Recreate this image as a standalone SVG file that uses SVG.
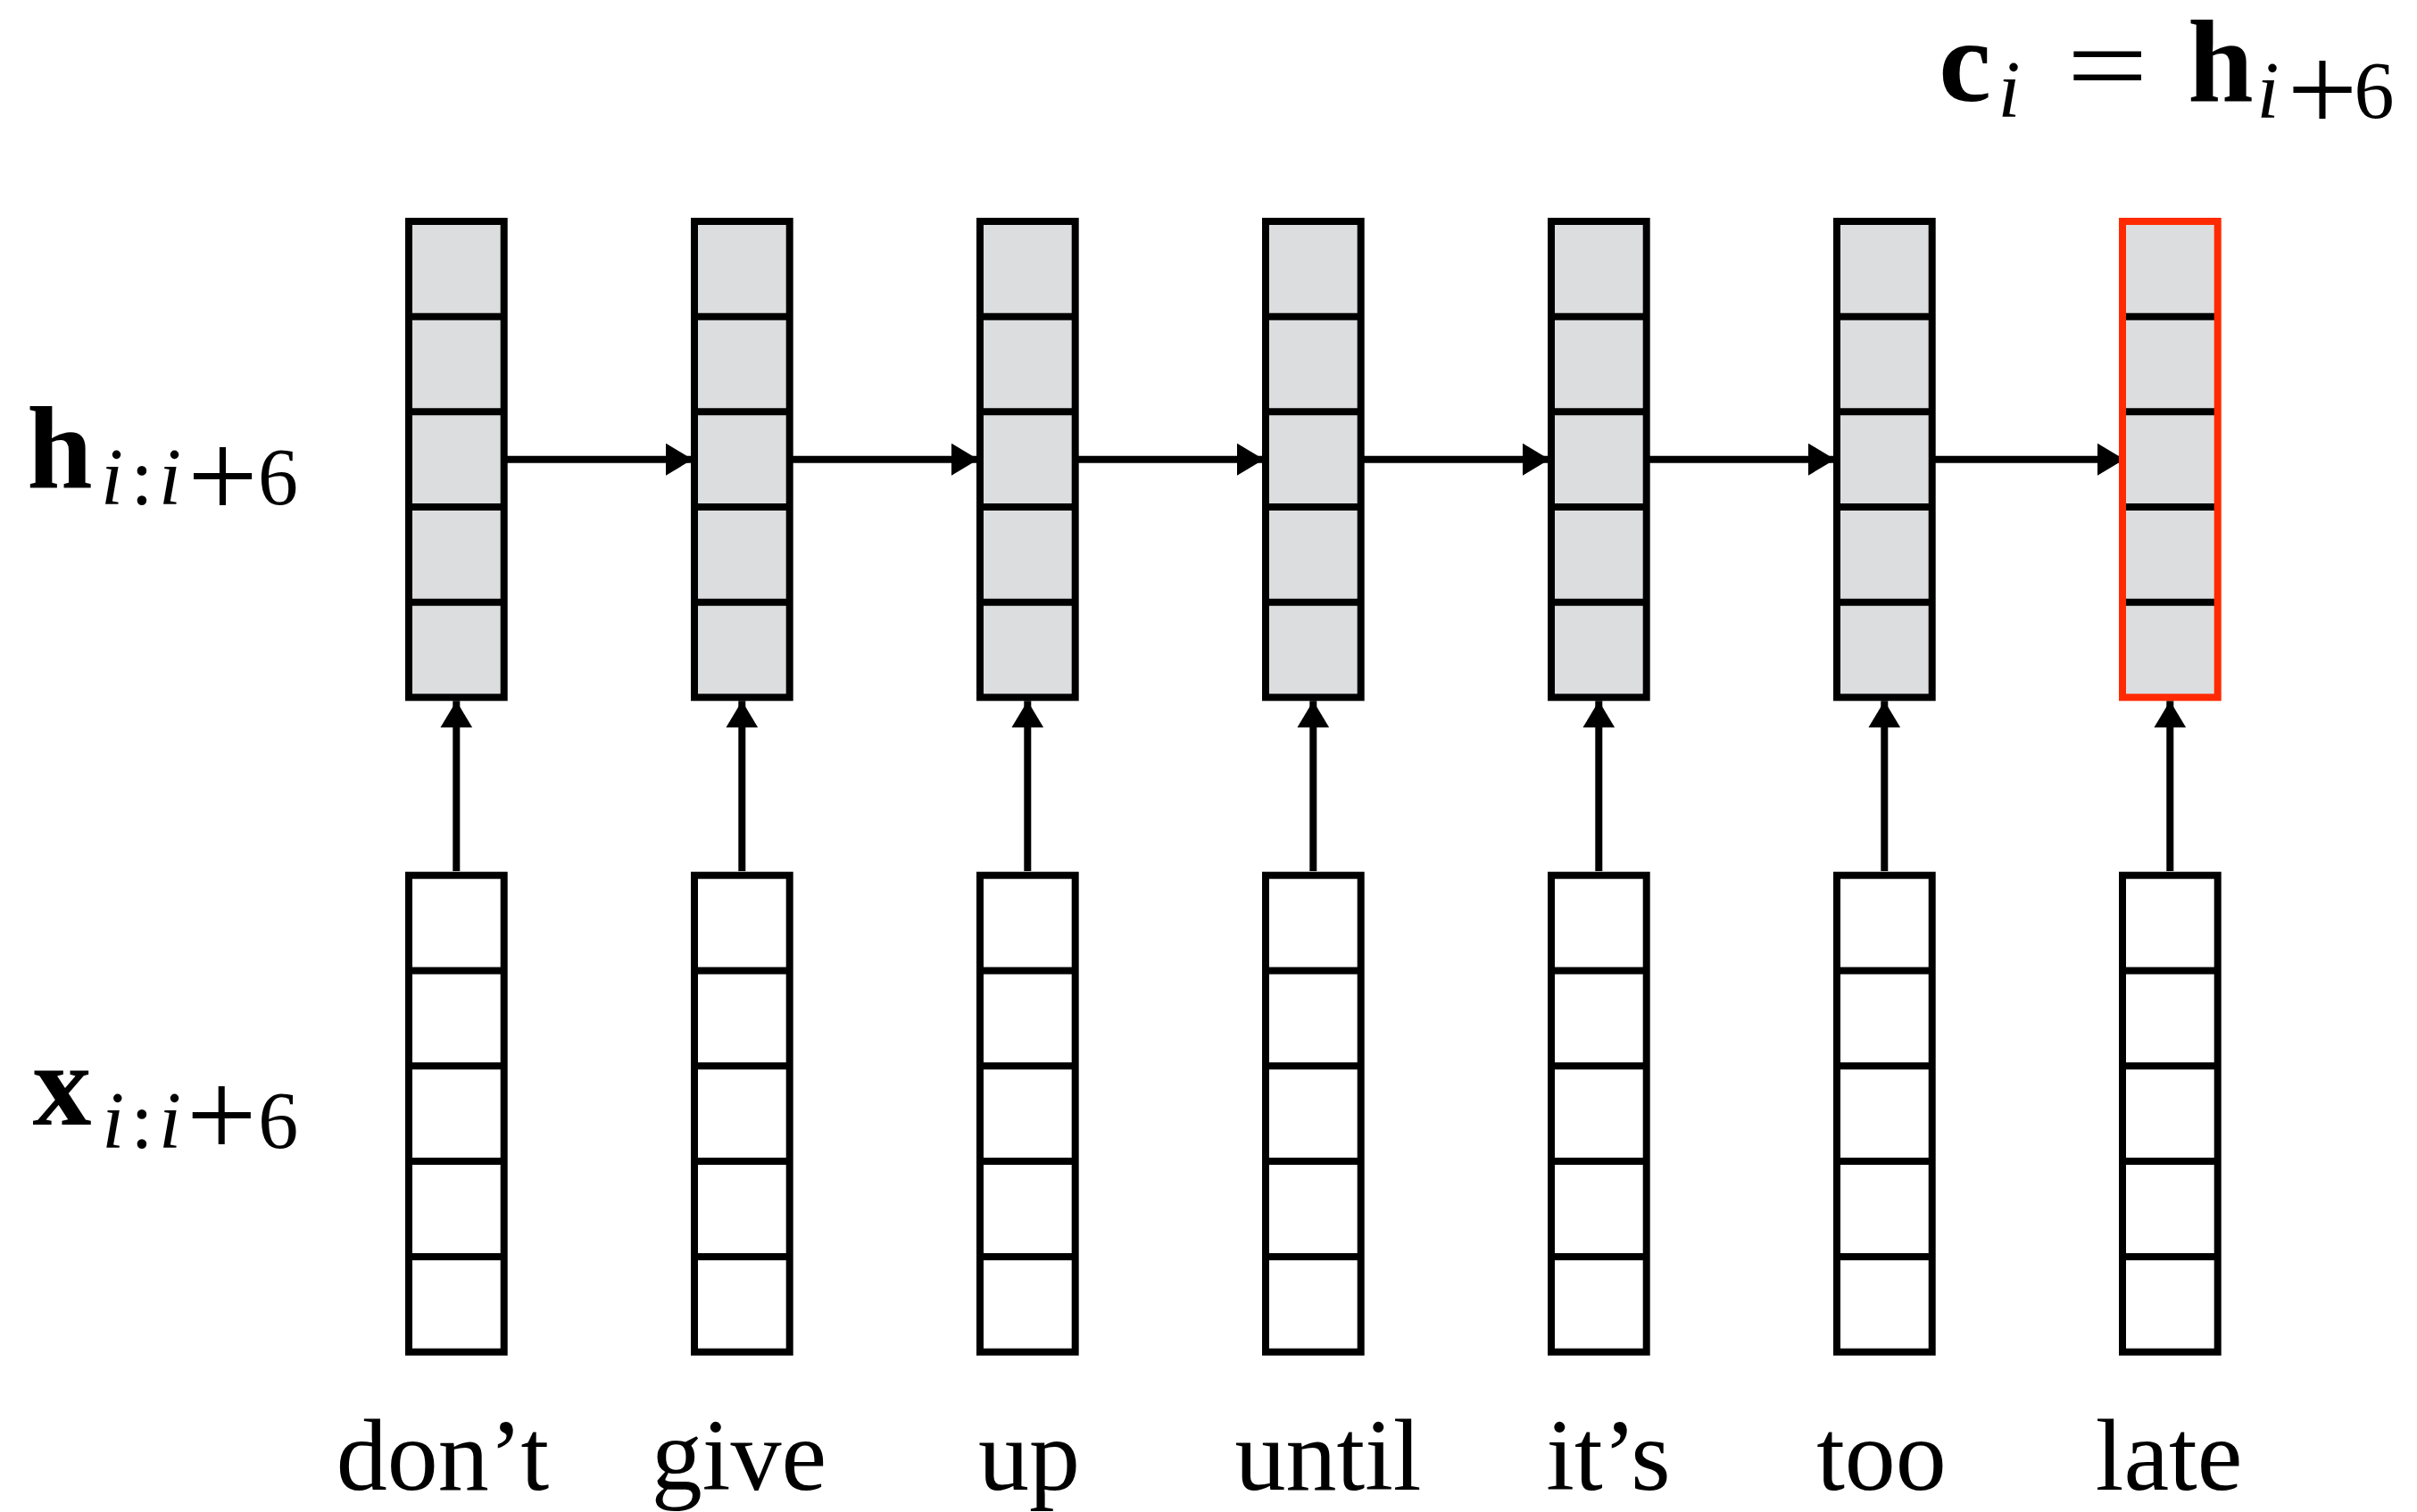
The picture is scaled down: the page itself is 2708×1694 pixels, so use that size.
<svg xmlns="http://www.w3.org/2000/svg" width="2708" height="1694" viewBox="0 0 2708 1694">
<style>
.hbox{fill:#dcdddf;stroke:#000;stroke-width:8}
.xbox{fill:#fff;stroke:#000;stroke-width:8}
.div{stroke:#000;stroke-width:8}
.red{fill:none;stroke:#ff2a00;stroke-width:8}
.conn{stroke:#000;stroke-width:8;fill:none}
.word{font-family:"Liberation Serif",serif;font-size:114px;text-anchor:middle;fill:#000}
.math{font-family:"Liberation Serif",serif;fill:#000;text-anchor:middle}
.bold{font-weight:bold;font-size:132px}
.sub{font-size:90px;font-style:italic}
.up{font-style:normal}
.plus{font-style:normal;font-size:140px}
</style>
<defs>
<marker id="ah" markerUnits="userSpaceOnUse" markerWidth="31" markerHeight="37" refX="30" refY="18" orient="auto">
<path d="M0,0 L30,18 L0,36 Z" fill="#000"/>
</marker>
<g id="hcol">
<rect class="hbox" x="0" y="0" width="106.7" height="533.3"/>
<line class="div" x1="0" y1="106.7" x2="106.7" y2="106.7"/>
<line class="div" x1="0" y1="213.3" x2="106.7" y2="213.3"/>
<line class="div" x1="0" y1="320" x2="106.7" y2="320"/>
<line class="div" x1="0" y1="426.7" x2="106.7" y2="426.7"/>
</g>
<g id="xcol">
<rect class="xbox" x="0" y="0" width="106.7" height="534"/>
<line class="div" x1="0" y1="106.8" x2="106.7" y2="106.8"/>
<line class="div" x1="0" y1="213.6" x2="106.7" y2="213.6"/>
<line class="div" x1="0" y1="320.4" x2="106.7" y2="320.4"/>
<line class="div" x1="0" y1="427.2" x2="106.7" y2="427.2"/>
</g>
</defs>
<rect x="0" y="0" width="2708" height="1694" fill="#fff"/>

<g id="h1"><use href="#hcol" x="458" y="248"/></g>
<g id="h2"><use href="#hcol" x="778" y="248"/></g>
<g id="h3"><use href="#hcol" x="1098" y="248"/></g>
<g id="h4"><use href="#hcol" x="1418" y="248"/></g>
<g id="h5"><use href="#hcol" x="1738" y="248"/></g>
<g id="h6"><use href="#hcol" x="2058" y="248"/></g>

<g id="x1"><use href="#xcol" x="458" y="980.7"/></g>
<g id="x2"><use href="#xcol" x="778" y="980.7"/></g>
<g id="x3"><use href="#xcol" x="1098" y="980.7"/></g>
<g id="x4"><use href="#xcol" x="1418" y="980.7"/></g>
<g id="x5"><use href="#xcol" x="1738" y="980.7"/></g>
<g id="x6"><use href="#xcol" x="2058" y="980.7"/></g>
<g id="x7"><use href="#xcol" x="2378" y="980.7"/></g>

<g id="connectors">
<line class="conn" x1="565" y1="514.7" x2="776" y2="514.7" marker-end="url(#ah)"/>
<line class="conn" x1="882" y1="514.7" x2="1096" y2="514.7" marker-end="url(#ah)"/>
<line class="conn" x1="1205" y1="514.7" x2="1416" y2="514.7" marker-end="url(#ah)"/>
<line class="conn" x1="1525" y1="514.7" x2="1736" y2="514.7" marker-end="url(#ah)"/>
<line class="conn" x1="1845" y1="514.7" x2="2056" y2="514.7" marker-end="url(#ah)"/>
<line class="conn" x1="2165" y1="514.7" x2="2380" y2="514.7" marker-end="url(#ah)"/>
<line class="conn" x1="511.3" y1="976" x2="511.3" y2="785.3" marker-end="url(#ah)"/>
<line class="conn" x1="831.3" y1="976" x2="831.3" y2="785.3" marker-end="url(#ah)"/>
<line class="conn" x1="1151.3" y1="976" x2="1151.3" y2="785.3" marker-end="url(#ah)"/>
<line class="conn" x1="1471.3" y1="976" x2="1471.3" y2="785.3" marker-end="url(#ah)"/>
<line class="conn" x1="1791.3" y1="976" x2="1791.3" y2="785.3" marker-end="url(#ah)"/>
<line class="conn" x1="2111.3" y1="976" x2="2111.3" y2="785.3" marker-end="url(#ah)"/>
<line class="conn" x1="2431.3" y1="976" x2="2431.3" y2="785.3" marker-end="url(#ah)"/>
</g>

<g id="h7">
<rect x="2378" y="248" width="106.7" height="533.3" fill="#dcdddf"/>
<line class="div" x1="2378" y1="354.7" x2="2484.7" y2="354.7"/>
<line class="div" x1="2378" y1="461.3" x2="2484.7" y2="461.3"/>
<line class="div" x1="2378" y1="568" x2="2484.7" y2="568"/>
<line class="div" x1="2378" y1="674.7" x2="2484.7" y2="674.7"/>
<rect class="red" x="2378" y="248" width="106.7" height="533.3"/>
</g>

<g id="words">
<text class="word" x="496" y="1669">don’t</text>
<text class="word" x="828" y="1669">give</text>
<text class="word" x="1153" y="1669">up</text>
<text class="word" x="1488" y="1669">until</text>
<text class="word" x="1802" y="1669">it’s</text>
<text class="word" x="2108" y="1669">too</text>
<text class="word" x="2430" y="1669">late</text>
</g>

<g id="label-h">
<text class="math"><tspan class="bold" x="67" y="546">h</tspan><tspan class="sub" x="125.5" y="565">i</tspan><tspan class="sub up" x="159" y="565">:</tspan><tspan class="sub" x="190.5" y="565">i</tspan><tspan class="plus" x="249.5" y="580">+</tspan><tspan class="sub up" x="311.5" y="565">6</tspan></text>
</g>
<g id="label-x">
<text class="math"><tspan class="bold" x="69.5" y="1260">x</tspan><tspan class="sub" x="126.7" y="1286">i</tspan><tspan class="sub up" x="159" y="1286">:</tspan><tspan class="sub" x="190.5" y="1286">i</tspan><tspan class="plus" x="248.3" y="1296">+</tspan><tspan class="sub up" x="311.7" y="1286">6</tspan></text>
</g>
<g id="label-c">
<text class="math"><tspan class="bold" x="2201.5" y="112.7">c</tspan><tspan class="sub" x="2251" y="131">i</tspan></text>
<text class="math" font-size="130" transform="translate(2361,117) scale(1.25,1)" x="0" y="0">=</text>
<text class="math"><tspan class="bold" x="2488" y="112.7">h</tspan><tspan class="sub" x="2541" y="131.7">i</tspan><tspan class="plus" x="2602" y="147">+</tspan><tspan class="sub up" x="2660" y="131.7">6</tspan></text>
</g>
</svg>
